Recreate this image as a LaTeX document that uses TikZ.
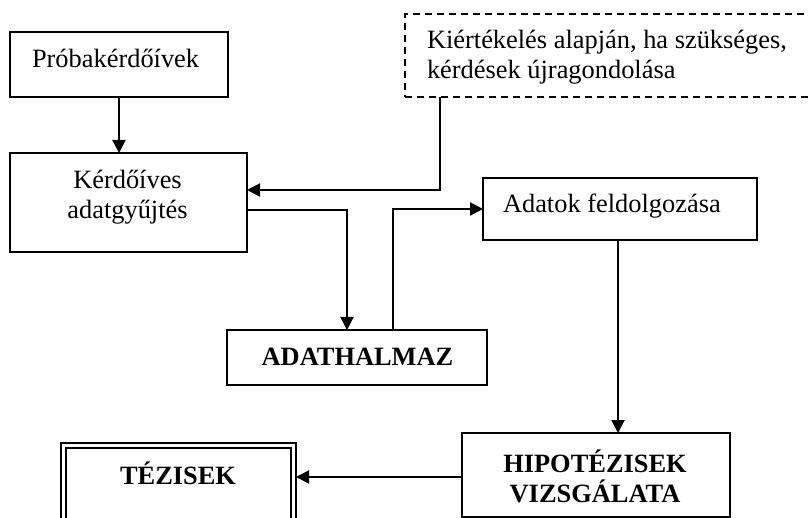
\documentclass[tikz,border=0pt]{standalone}
\usepackage{fontspec}
\setmainfont{Liberation Serif}
\usetikzlibrary{arrows.meta}

\begin{document}
\begin{tikzpicture}[x=1pt,y=-1pt,
  every node/.style={inner sep=0pt,outer sep=0pt},
  box/.style={draw,line width=2pt,rectangle},
  dashbox/.style={draw,line width=1.8pt,rectangle,dash pattern=on 7pt off 5pt},
  dblbox/.style={draw,line width=2pt,double=white,double distance=3pt,rectangle},
  lbl/.style={font=\fontsize{26.4}{30}\selectfont,align=center},
  blbl/.style={font=\fontsize{26.4}{30}\selectfont\bfseries,align=center},
  conn/.style={line width=2pt},
  arr/.style={conn,-{Triangle[length=13pt,width=13pt]}}]
\useasboundingbox (0,0) rectangle (808,518);
\clip (0,0) rectangle (808,518);

% boxes
\node[box,minimum width=218pt,minimum height=65pt] (probe) at (119,64.5) {};
\node[box,minimum width=237pt,minimum height=99pt] (kerd) at (128.5,202.5) {};
\node[dashbox,minimum width=440pt,minimum height=83pt] (eval) at (625,55.5) {};
\node[box,minimum width=274pt,minimum height=62pt] (proc) at (620,209) {};
\node[box,minimum width=260pt,minimum height=55pt] (data) at (357,357.5) {};
\node[box,minimum width=268pt,minimum height=84pt] (hypo) at (596,475) {};
\node[dblbox,minimum width=230pt,minimum height=90pt] (thes) at (178.5,490.5) {};

% labels
\node[lbl,anchor=base west] (probeT) at (32,68) {Próbakérdőívek};
\node[lbl,anchor=base] (kerdT1) at (127.5,189) {Kérdőíves};
\node[lbl,anchor=base] (kerdT2) at (127.5,219) {adatgyűjtés};
\node[lbl,anchor=base west] (evalT1) at (427,49) {Kiértékelés alapján, ha szükséges,};
\node[lbl,anchor=base west] (evalT2) at (427,79) {kérdések újragondolása};
\node[lbl,anchor=base west] (procT) at (503,213) {Adatok feldolgozása};
\node[blbl,anchor=base] (dataT) at (357.5,365) {ADATHALMAZ};
\node[blbl,anchor=base] (hypoT1) at (595,472) {HIPOTÉZISEK};
\node[blbl,anchor=base] (hypoT2) at (595,502) {VIZSGÁLATA};
\node[blbl,anchor=base] (thesT) at (178,484) {TÉZISEK};

% connectors
\draw[arr] (probe.south) -- (probe.south |- kerd.north);
\draw[arr] ([xshift=35pt]eval.south west) |- ([yshift=12.5pt]kerd.east);
\draw[arr] ([yshift=-7.5pt]kerd.east) -| ([xshift=-10pt]data.north);
\draw[arr] ([xshift=36pt]data.north) |- (proc.west);
\draw[arr] ([xshift=-2pt]proc.south) -- ([xshift=-2pt]proc.south |- hypo.north);
\draw[arr] ([yshift=-2pt]hypo.west) -- ([xshift=2.5pt,yshift=-2pt]hypo.west -| thes.east);
\end{tikzpicture}
\end{document}
